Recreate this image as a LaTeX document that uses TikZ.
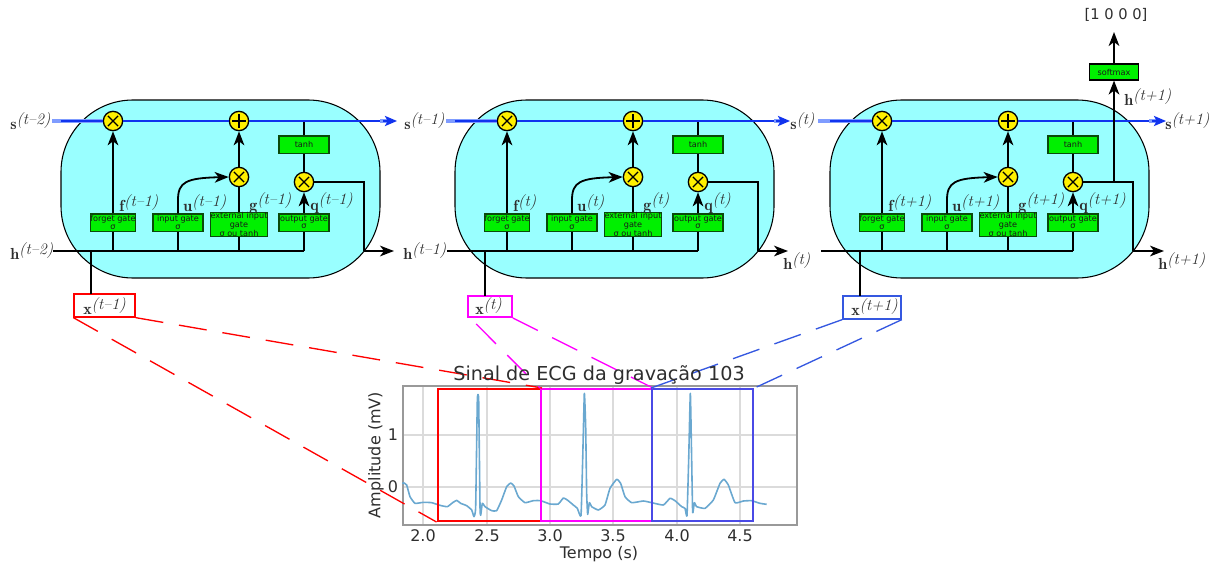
\documentclass[tikz,border=0pt]{standalone}
\usepackage{fontspec}
\usetikzlibrary{arrows.meta,calc}
\newfontfamily\dvf{DejaVu Sans}
\definecolor{cellbg}{HTML}{99FFFF}
\definecolor{gatebg}{HTML}{00F000}
\definecolor{gateln}{HTML}{0A4A0A}
\definecolor{opyel}{HTML}{FFF000}
\definecolor{sdark}{HTML}{1133EE}
\definecolor{slight}{HTML}{7F9CFF}
\definecolor{txt}{HTML}{2E2E2E}
\definecolor{ecg}{HTML}{6AA8D0}
\definecolor{winblue}{HTML}{4A4AE6}
\definecolor{boxblue}{HTML}{3558E0}
\definecolor{puremag}{HTML}{FF00FF}
\definecolor{purered}{HTML}{FF0000}
\newcommand{\lab}[2]{$\mathbf{#1}^{\textit{(#2)}}$}
\tikzset{
  sym/.style={text=txt,font=\fontsize{12}{14}\selectfont,inner sep=0pt},
  cellbox/.style={draw=black,line width=0.8pt,fill=cellbg,rounded corners=54pt,minimum width=239.25pt,minimum height=133.5pt,inner sep=0pt},
  gatebox/.style={draw=gateln,line width=0.8pt,fill=gatebg,inner sep=0pt,align=center,text=black!90,font=\dvf\fontsize{6.1}{5.4}\selectfont},
  opnode/.style={draw=black,line width=1pt,fill=opyel,circle,minimum size=14.5pt,inner sep=0pt},
  timesop/.style={opnode,path picture={\draw[line width=1pt] ($(path picture bounding box.center)+(-3.8pt,-3.8pt)$) -- ($(path picture bounding box.center)+(3.8pt,3.8pt)$) ($(path picture bounding box.center)+(-3.8pt,3.8pt)$) -- ($(path picture bounding box.center)+(3.8pt,-3.8pt)$);}},
  plusop/.style={opnode,path picture={\draw[line width=1pt] ($(path picture bounding box.center)+(-5pt,0pt)$) -- ($(path picture bounding box.center)+(5pt,0pt)$) ($(path picture bounding box.center)+(0pt,5pt)$) -- ($(path picture bounding box.center)+(0pt,-5pt)$);}},
  wire/.style={draw=black,line width=1.35pt},
  arrowwire/.style={wire,-{Stealth[length=10.5pt,width=8pt,inset=3pt]}},
  sglow/.style={draw=slight,line width=3.2pt},
  score/.style={draw=sdark,line width=2pt},
  stip/.style={-{Stealth[length=9pt,width=7.5pt,inset=2pt]}},
  inbox/.style={draw=#1,line width=1.2pt,fill=white,inner sep=0pt},
  window/.style={draw=#1,line width=1.5pt,inner sep=0pt},
  link/.style={draw=#1,line width=1pt,dash pattern=on 21pt off 12pt},
  charttext/.style={text=txt,inner sep=0pt,font=\dvf\fontsize{12}{14}\selectfont},
}
% #1 prefix, #2 x shift, #3 superscript
\newcommand{\lstmcell}[3]{%
\begin{scope}[shift={(#2,0)}]
  \node[cellbox] (#1-cell) at (220.5,189) {};
  \coordinate (#1-sin) at (61,121);
  \coordinate (#1-sout) at (380,121);
  \node[timesop] (#1-mf) at (113,121) {};
  \node[plusop] (#1-add) at (239,121) {};
  \node[timesop] (#1-mu) at (239,177) {};
  \node[timesop] (#1-mq) at (304,182) {};
  \node[gatebox,minimum width=34pt,minimum height=12.8pt] (#1-forget) at (113,222.5) {forget gate\\σ};
  \node[gatebox,minimum width=37.5pt,minimum height=12.8pt] (#1-input) at (178,222.5) {input gate\\σ};
  \node[gatebox,minimum width=42.5pt,minimum height=17pt] (#1-ext) at (239,224.5) {external input\\gate\\σ ou tanh};
  \node[gatebox,minimum width=37.5pt,minimum height=12.8pt] (#1-output) at (304,222.5) {output gate\\σ};
  \node[gatebox,minimum width=37.5pt,minimum height=12.8pt] (#1-tanh) at (304,144.5) {tanh};
  \node[sym,anchor=west] (#1-lf) at (119,203) {\lab{f}{#3}};
  \node[sym,anchor=west] (#1-lu) at (183,203) {\lab{u}{#3}};
  \node[sym,anchor=west] (#1-lg) at (249,203) {\lab{g}{#3}};
  \node[sym,anchor=west] (#1-lq) at (310,203) {\lab{q}{#3}};
  \coordinate (#1-hf) at (113,251);
  \coordinate (#1-hu) at (178,251);
  \coordinate (#1-hx) at (91,251);
  \coordinate (#1-hg) at (239,251);
  \coordinate (#1-hq) at (304,251);
  \coordinate (#1-top) at (304,121);
  \coordinate (#1-c1) at (364,182);
  \coordinate (#1-c2) at (364,251);
  \coordinate (#1-bend) at (178,200);
  \draw[wire] (#1-hf) -- (#1-forget.south);
  \draw[wire] (#1-hu) -- (#1-input.south);
  \draw[wire] (#1-hg) -- (#1-ext.south);
  \draw[wire] (#1-hq) -- (#1-output.south);
  \draw[arrowwire] (#1-forget.north) -- (#1-mf.south);
  \draw[arrowwire] (#1-input.north) -- (#1-bend) .. controls (178,182) and (186,178) .. (#1-mu.west);
  \draw[wire] (#1-ext.north) -- (#1-mu.south);
  \draw[arrowwire] (#1-mu.north) -- (#1-add.south);
  \draw[arrowwire] (#1-output.north) -- (#1-mq.south);
  \draw[wire] (#1-mq.north) -- (#1-tanh.south);
  \draw[wire] (#1-tanh.north) -- (#1-top);
  \draw[wire] (#1-mq.east) -- (#1-c1) -- (#1-c2);
\end{scope}}
\begin{document}
\begin{tikzpicture}[x=0.75pt,y=-0.75pt]
\useasboundingbox (0,0) rectangle (1212,567);
% cells
\lstmcell{A}{0}{t–1}
\lstmcell{B}{394}{t}
\lstmcell{C}{769}{t+1}
% outer labels
\node[sym,anchor=west] (s0) at (10,121) {\lab{s}{t–2}};
\node[sym,anchor=west] (s1) at (404,121) {\lab{s}{t–1}};
\node[sym,anchor=west] (s2) at (790,121) {\lab{s}{t}};
\node[sym,anchor=west] (s3) at (1165,121) {\lab{s}{t+1}};
\node[sym,anchor=west] (h0) at (10,251) {\lab{h}{t–2}};
\node[sym,anchor=west] (h1) at (403,251) {\lab{h}{t–1}};
\node[sym,anchor=west] (h2) at (783,261) {\lab{h}{t}};
\node[sym,anchor=west] (h3) at (1158,261) {\lab{h}{t+1}};
% cell-state lines
\coordinate (Asb) at (52,121); \coordinate (Ase) at (397,121);
\coordinate (Bsb) at (446,121); \coordinate (Bse) at (790,121);
\coordinate (Csb) at (818,121); \coordinate (Cse) at (1166,121);
\foreach \c in {A,B,C}{
  \draw[sglow] (\c sb) -- (\c-mf.west);
  \draw[sglow] (\c-sout) -- ($(\c se)+(-6,0)$);
  \draw[score,stip] ($(\c se)+(-14,0)$) -- (\c se);
  \draw[score] (\c-sin) -- (\c-mf.west);
  \draw[score] (\c-mf.east) -- (\c-add.west);
  \draw[score] (\c-add.east) -- (\c-sout);
}
% hidden-state lines
\coordinate (Ahb) at (53,251); \coordinate (Bhb) at (447,251); \coordinate (Chb) at (821,251);
\coordinate (Ahe) at (394,251); \coordinate (Bhe) at (788,251); \coordinate (Che) at (1164,251);
\foreach \c in {A,B,C}{
  \draw[wire] (\c hb) -- (\c-hq);
  \draw[arrowwire] (\c-c2) -- (\c he);
}
% inputs
\node[inbox=purered,minimum width=45.5pt,minimum height=17pt] (xa) at (104.5,305.5) {};
\node[inbox=puremag,minimum width=33pt,minimum height=16pt] (xb) at (490,306.5) {};
\node[inbox=boxblue,minimum width=43.5pt,minimum height=17pt] (xc) at (872,307.5) {};
\node[sym,anchor=west] (xal) at (83,306) {\lab{x}{t–1}};
\node[sym,anchor=west] (xbl) at (475,306) {\lab{x}{t}};
\node[sym,anchor=west] (xcl) at (851,307) {\lab{x}{t+1}};
\coordinate (xat) at (91,294); \coordinate (xbt) at (485,296); \coordinate (xct) at (860,296);
\draw[wire] (A-hx) -- (xat);
\draw[wire] (B-hx) -- (xbt);
\draw[wire] (C-hx) -- (xct);
% softmax branch
\node[gatebox,draw=black,minimum width=37pt,minimum height=12pt] (soft) at (1114,72) {softmax};
\node[text=txt,inner sep=0pt,font=\dvf\fontsize{11}{13}\selectfont] (out) at (1116,15) {[1 0 0 0]};
\node[sym,anchor=west] (hout) at (1124,97) {\lab{h}{t+1}};
\coordinate (Cup) at (1114,182);
\coordinate (outtip) at (1114,32);
\draw[arrowwire] (Cup) -- (soft.south);
\draw[arrowwire] (soft.north) -- (outtip);
% chart
\node[draw=black!40,line width=1.1pt,minimum width=295.5pt,minimum height=104.25pt,inner sep=0pt] (frame) at (600,455.5) {};
\foreach \px in {423,487,550,613,677,740}{
  \draw[black!14,line width=0.8pt] (\px,387) -- (\px,524);
}
\foreach \py in {435,487}{
  \draw[black!14,line width=0.8pt] (404,\py) -- (796,\py);
}
\begin{scope}[shift={(360,360)},x=0.25pt,y=-0.25pt]
\draw[ecg,line width=1.2pt,line join=round] plot[smooth,tension=0.25] coordinates {
(128,372)(130,368)(140,375)(150,410)(165,430)(190,427)(215,428)(240,436)(262,440)(278,428)(290,421)(302,430)(320,437)(335,450)(342,470)(347,440)(352,120)(356,120)(360,440)(362,466)(367,430)(375,440)(395,452)(410,452)(425,420)(440,380)(452,369)(462,378)(475,410)(495,428)(520,422)(542,422)(570,432)(595,432)(610,414)(622,420)(640,435)(652,445)(663,467)(668,300)(673,100)(677,200)(680,400)(683,463)(688,428)(695,440)(715,450)(735,435)(750,385)(770,358)(782,370)(795,410)(815,428)(850,423)(875,428)(910,435)(930,415)(945,422)(965,440)(975,445)(981,467)(986,300)(991,100)(995,300)(998,458)(1003,428)(1010,440)(1035,445)(1060,420)(1080,370)(1092,358)(1105,375)(1125,428)(1150,423)(1175,422)(1200,430)(1220,433)};
\end{scope}
\node[window=purered,minimum width=77.6pt,minimum height=99pt] (wa) at (489.25,455) {};
\node[window=puremag,minimum width=83.25pt,minimum height=99pt] (wb) at (596.5,455) {};
\node[window=winblue,minimum width=76.1pt,minimum height=99pt] (wc) at (702.75,455) {};
% linking dashes
\draw[link=purered] (xa.south west) -- (wa.south west);
\draw[link=purered] (xa.south east) -- (wa.north east);
\draw[link=puremag] ($(xb.south west)+(9,6)$) -- (wb.north west);
\draw[link=puremag] (xb.south east) -- (wb.north east);
\draw[link=boxblue] (xc.south west) -- (wc.north west);
\draw[link=boxblue] (xc.south east) -- (wc.north east);
% chart text
\node[text=txt,inner sep=0pt,font=\dvf\fontsize{14.4}{16}\selectfont] (title) at (599,375) {Sinal de ECG da gravação 103};
\foreach \px/\tl in {423/2.0,487/2.5,550/3.0,613/3.5,677/4.0,740/4.5}{
  \node[charttext] at (\px,536) {\tl};
}
\node[charttext] (ty1) at (393,435) {1};
\node[charttext] (ty0) at (393,487) {0};
\node[charttext] (xlab) at (599,554) {Tempo (s)};
\node[charttext,rotate=90] (ylab) at (376,455) {Amplitude (mV)};
\end{tikzpicture}
\end{document}
